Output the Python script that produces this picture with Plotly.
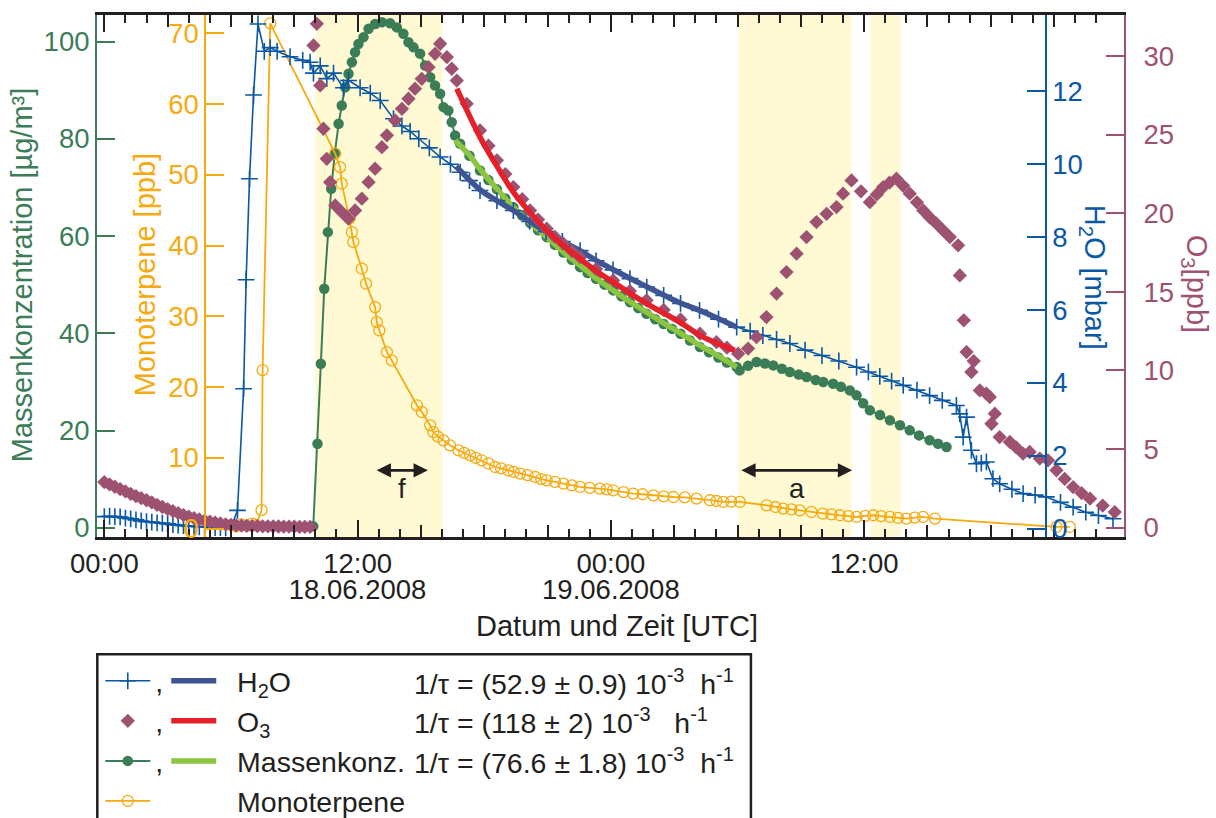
import pandas as pd
import plotly.graph_objects as go

BASE = pd.Timestamp("2008-06-18 00:00:00")

# ---------------- data: time in hours after 18.06.2008 00:00 UTC ----------------
h2o_t = [0.0, 0.25, 0.5, 0.75, 1.0, 1.25, 1.5, 1.75, 2.0, 2.25, 2.5, 2.75, 3.0, 3.25, 3.5, 3.75,
         4.0, 4.25, 4.5, 4.75, 5.0, 5.25, 5.5, 5.75, 6.0,
         6.31, 6.6, 6.72, 6.88, 7.07, 7.28, 7.58, 7.86, 8.19, 8.8, 9.4, 9.75,
         9.91, 10.23, 10.54, 10.86, 11.33, 11.57, 12.12, 12.6, 13.07, 13.7, 14.1, 14.49, 14.9, 15.4, 15.91,
         16.4, 16.86, 17.3, 17.8, 18.6, 19.38, 20.15, 20.93, 21.7, 22.54, 23.3, 24.1, 24.9, 25.7, 26.5,
         27.3, 28.2, 29.1, 29.96,
         30.6, 31.2, 31.85, 32.48, 33.2, 34.0, 34.8, 35.64, 36.2, 36.74, 37.3, 37.85, 38.5, 39.1, 39.7, 40.37,
         40.53, 40.69, 40.85, 41.08, 41.32, 41.55, 41.79, 42.1, 42.42, 43.0, 43.53, 44.1, 44.63, 45.3, 45.9,
         46.5, 47.1, 47.79]
h2o_v = [0.33, 0.34, 0.33, 0.32, 0.29, 0.27, 0.24, 0.21, 0.19, 0.18, 0.16, 0.15, 0.13, 0.11, 0.10, 0.08,
         0.07, 0.06, 0.05, 0.05, 0.04, 0.03, 0.03, 0.02, 0.02,
         0.5, 3.84, 6.83, 9.6, 11.9, 13.85, 13.1, 13.2, 13.1, 12.95, 12.85, 12.8,
         12.5, 12.7, 12.35, 12.5, 12.1, 12.3, 12.1, 11.95, 11.75, 11.25, 11.05, 10.9, 10.7, 10.45, 10.2,
         10.0, 9.78, 9.55, 9.28, 9.0, 8.73, 8.43, 8.15, 7.88, 7.63, 7.35, 7.1, 6.86, 6.63, 6.4,
         6.18, 5.99, 5.75, 5.53,
         5.42, 5.3, 5.19, 5.08, 4.9, 4.75, 4.6, 4.43, 4.3, 4.18, 4.05, 3.93, 3.8, 3.65, 3.52, 3.38,
         3.15, 2.51, 3.06, 2.15, 1.78, 1.8, 1.83, 1.37, 1.23, 1.08, 0.96, 0.92, 0.87, 0.72, 0.59,
         0.45, 0.36, 0.27]

h2o_fit_t = [16.67, 17.8, 18.6, 19.38, 20.15, 20.93, 21.7, 22.54, 23.3, 24.1, 24.9, 25.7, 26.5,
             27.3, 28.2, 29.1, 29.96]
h2o_fit_v = [9.94, 9.3, 9.0, 8.73, 8.43, 8.15, 7.88, 7.63, 7.36, 7.11, 6.87, 6.64, 6.41,
             6.19, 5.99, 5.76, 5.53]

o3_t = [0.0, 0.25, 0.5, 0.75, 1.0, 1.25, 1.5, 1.75, 2.0, 2.25, 2.5, 2.75, 3.0, 3.25, 3.5, 3.75,
        4.0, 4.25, 4.5, 4.75, 5.0, 5.25, 5.5, 5.75, 6.0, 6.25, 6.5, 6.75, 7.0, 7.25, 7.5, 7.75,
        8.0, 8.25, 8.5, 8.75, 9.0, 9.25, 9.5, 9.75,
        9.91, 10.07, 10.23, 10.38, 10.54, 10.7, 10.94, 11.25, 11.57, 11.88, 12.2, 12.52, 12.83, 13.15,
        13.39, 13.78, 14.1, 14.41, 14.72, 15.04, 15.36, 15.67, 15.91, 16.23, 16.46, 16.7,
        17.17, 17.8, 18.2, 18.6, 19.0, 19.38, 19.8, 20.17, 20.55, 20.96, 21.35, 21.75, 22.15, 22.54,
        23.3, 24.11, 24.9, 25.69, 26.5, 27.3, 28.22, 29.0, 29.5, 30.03,
        30.5, 30.9, 31.37, 31.85, 32.32, 32.8, 33.27, 33.74, 34.22, 34.69, 35.0, 35.4, 35.85, 36.27,
        36.6, 36.9, 37.2, 37.53, 37.85, 38.16, 38.5, 38.8, 39.1, 39.43, 39.75, 40.06, 40.45,
        40.53, 40.72, 40.85, 41.08, 41.19, 41.48, 41.79, 41.95, 42.03, 42.19, 42.42, 42.9, 43.2,
        43.53, 43.84, 44.32, 44.71, 45.11, 45.5, 45.9, 46.3, 46.7, 47.3, 47.87]
o3_v = [2.9, 2.75, 2.6, 2.45, 2.3, 2.15, 2.0, 1.87, 1.74, 1.6, 1.45, 1.31, 1.18, 1.05, 0.92, 0.8,
        0.7, 0.6, 0.52, 0.45, 0.38, 0.32, 0.26, 0.21, 0.17, 0.14, 0.12, 0.11, 0.1, 0.09, 0.08, 0.08,
        0.07, 0.07, 0.06, 0.06, 0.06, 0.05, 0.05, 0.05,
        30.68, 32.06, 28.14, 25.38, 23.47, 21.98, 20.5, 20.08, 19.66, 20.18, 20.93, 21.98, 22.84, 24.21,
        24.96, 25.91, 26.65, 27.29, 27.93, 28.56, 29.3, 30.15, 30.79, 29.94, 29.2, 28.45,
        26.97, 25.27, 24.3, 23.37, 22.5, 21.67, 20.9, 20.18, 19.6, 19.02, 18.5, 18.07, 17.6, 17.21,
        16.45, 15.73, 15.05, 14.46, 13.85, 13.25, 12.34, 11.8, 11.45, 11.07,
        11.39, 12.12, 13.4, 14.89, 16.26, 17.43, 18.49, 19.44, 19.97, 20.4, 21.25, 22.09, 21.4, 20.71,
        21.2, 21.67, 21.95, 22.2, 21.75, 21.25, 20.7, 20.18, 19.75, 19.34, 18.9, 18.49, 17.96,
        16.05, 13.19, 11.17, 9.9, 10.6, 8.73, 8.52, 8.31, 6.61, 7.25, 5.76, 5.45, 5.1,
        4.71, 4.81, 4.39, 4.28, 3.65, 3.1, 2.58, 2.2, 1.84, 1.4, 0.99]

o3_fit_t = [16.7, 17.8, 18.6, 19.38, 20.17, 20.96, 21.75, 22.54, 23.3, 24.11, 24.9, 25.69, 26.5,
            27.3, 28.22, 29.0, 29.87]
o3_fit_v = [27.93, 24.85, 23.0, 21.35, 20.05, 18.91, 17.95, 17.11, 16.33, 15.62, 14.92, 14.25, 13.65,
            13.05, 12.23, 11.75, 11.28]

mass_t = [9.9, 10.1, 10.26, 10.42, 10.59, 10.75, 10.92, 11.1, 11.25, 11.41, 11.57, 11.73, 11.88, 12.04,
          12.28, 12.52, 12.83, 13.15, 13.54, 13.86, 14.17, 14.41, 14.65, 14.96, 15.2, 15.44, 15.67,
          15.91, 16.07, 16.3, 16.46, 16.62,
          16.86, 17.3, 17.8, 18.2, 18.6, 19.0, 19.38, 19.8, 20.17, 20.55, 20.96, 21.35, 21.75, 22.15,
          22.54, 22.9, 23.3, 23.7, 24.11, 24.5, 24.9, 25.3, 25.69, 26.1, 26.5, 26.9, 27.3, 27.75, 28.22,
          28.65, 29.1, 29.5, 29.96,
          30.1, 30.5, 30.9, 31.3, 31.69, 32.1, 32.48, 32.9, 33.27, 33.7, 34.06, 34.53, 34.9, 35.32,
          35.64, 35.95, 36.27, 36.75, 37.22, 37.7, 38.16, 38.6, 39.1, 39.5, 39.9]
mass_v = [0.3, 17.3, 33.75, 49.17, 60.8, 69.72, 77.0, 83.08, 86.85, 90.6, 93.36, 95.75, 97.8, 99.5,
          100.9, 102.6, 103.6, 103.97, 103.77, 102.9, 101.6, 99.86, 98.8, 97.5, 95.07, 92.66, 90.96,
          89.25, 86.5, 85.8, 83.4, 80.68,
          78.97, 76.5, 73.48, 71.5, 69.6, 67.7, 65.94, 64.2, 62.7, 61.2, 59.77, 58.2, 56.6, 55.1,
          53.6, 52.4, 51.2, 50.0, 48.82, 47.6, 46.4, 45.2, 44.03, 42.9, 41.9, 40.9, 39.9, 38.5, 37.16,
          36.1, 35.0, 34.0, 33.05,
          32.37, 33.3, 34.08, 33.8, 33.4, 32.7, 32.03, 31.5, 31.0, 30.4, 29.97, 29.64, 29.0, 28.26,
          27.24, 25.6, 24.15, 23.2, 22.1, 21.1, 20.04, 19.0, 17.99, 17.3, 16.61]

mass_fit_t = [16.62, 17.3, 17.8, 18.6, 19.38, 20.17, 20.96, 21.75, 22.54, 23.3, 24.11, 24.9, 25.69,
              26.5, 27.3, 28.22, 29.1, 29.96]
mass_fit_v = [79.65, 76.6, 73.8, 69.7, 65.94, 62.7, 59.77, 56.7, 53.96, 51.3, 48.82, 46.5, 44.36,
              42.1, 40.0, 37.51, 35.3, 33.05]

mono_t = [6.0, 6.25, 6.5, 6.75, 7.0, 7.2, 7.45, 7.5, 7.86,
          10.94, 11.17, 11.25, 11.61, 11.73, 11.8, 12.2, 12.4, 12.83, 12.91, 13.03, 13.39, 13.62,
          14.81, 15.04, 15.44, 15.59, 15.8, 16.07, 16.38, 16.78, 17.05, 17.33, 17.6, 17.88, 18.2, 18.51,
          18.8, 19.14, 19.4, 19.7, 20.05, 20.41, 20.7, 20.96, 21.35, 21.75, 22.15, 22.54, 23.0, 23.48,
          23.8, 24.11, 24.6, 25.06, 25.5, 26.01, 26.5, 26.96, 27.5, 28.06, 28.69, 29.0, 29.32, 29.7, 30.11,
          31.38, 31.8, 32.16, 32.55, 32.95, 33.5, 34.04, 34.45, 34.85, 35.25, 35.64, 36.05, 36.43, 36.8,
          37.22, 37.6, 38.0, 38.4, 38.79, 39.35,
          45.11, 45.74]
mono_v = [0.5, 0.3, 0.6, 0.4, 0.7, 0.5, 2.6, 22.4, 71.4,
          52.97, 51.07, 48.73, 43.79, 41.9, 40.48, 36.72, 34.6, 31.3, 29.18, 28.0, 24.94, 23.77,
          17.42, 16.47, 14.59, 13.64, 13.0, 12.47, 11.76, 11.06, 10.7, 10.35, 10.0, 9.65, 9.2, 8.7,
          8.5, 8.23, 8.0, 7.77, 7.55, 7.29, 7.0, 6.82, 6.6, 6.36, 6.1, 5.88, 5.75, 5.65,
          5.55, 5.41, 5.15, 4.94, 4.85, 4.7, 4.55, 4.46, 4.4, 4.24, 4.0, 3.9, 3.76, 3.8, 3.76,
          3.29, 3.05, 2.82, 2.7, 2.58, 2.35, 2.12, 2.0, 1.88, 1.75, 1.64, 1.8, 1.88, 1.75,
          1.64, 1.5, 1.41, 1.55, 1.64, 1.41,
          0.23, 0.23]

shade_start = [10.0, 30.03, 36.33]
shade_end = [16.02, 35.4, 37.72]

arrow_labels = ["f", "a"]
arrow_from = [12.83, 30.11]
arrow_to = [15.33, 35.43]
arrow_text_t = [14.1, 32.83]

fit_labels = ["1/τ = (52.9 ± 0.9) 10<sup>-3</sup>\u00a0\u00a0h<sup>-1</sup>",
              "1/τ = (118 ± 2) 10<sup>-3</sup>\u00a0\u00a0\u00a0h<sup>-1</sup>",
              "1/τ = (76.6 ± 1.8) 10<sup>-3</sup>\u00a0\u00a0h<sup>-1</sup>"]

x_major_h = list(range(0, 46, 3))
x_label_h = {0: "00:00", 12: "12:00", 24: "00:00", 36: "12:00"}
x_long_h = [0, 12, 24, 36]
x_date_h = {12: "18.06.2008", 24: "19.06.2008"}
x_minor_h = [h for h in range(0, 48) if h % 3 != 0]
x_range_h = [-0.346, 48.31]

# ---------------- styling ----------------
FONT = "Liberation Sans, Arial, Helvetica, sans-serif"
DARK = "#231f20"
GREEN = "#3b7d57"
ORANGE = "#f7aa10"
BLUE = "#0a58a5"
PURPLE = "#9d5271"
NAVY = "#3f5593"
RED = "#e4202b"
LIME = "#8cc540"
SHADE = "#fffad3"
TICK_FS = 27.5
TITLE_FS = 29
LEG_FS = 28.5

L, R, T, B = 96.7, 91.7, 14.5, 281.3
W, H = 1216, 818
PW, PH = W - L - R, H - T - B


def px(xpix):
    return (xpix - L) / PW


def py(ypix):
    return (H - B - ypix) / PH


def tt(hours):
    return [BASE + pd.Timedelta(hours=h) for h in hours]


fig = go.Figure()

fig.add_trace(go.Scatter(x=tt(o3_t), y=o3_v, yaxis="y4", mode="markers", name=",",
                         marker=dict(symbol="diamond", size=11, color=PURPLE, line=dict(width=0)),
                         legend="legend", legendrank=2, legendgroup="o3d"))
fig.add_trace(go.Scatter(x=tt(mass_t), y=mass_v, yaxis="y", mode="lines+markers", name=",",
                         line=dict(color=GREEN, width=2),
                         marker=dict(symbol="circle", size=10.5, color=GREEN),
                         legend="legend", legendrank=3, legendgroup="md"))
fig.add_trace(go.Scatter(x=tt(h2o_t), y=h2o_v, yaxis="y3", mode="lines+markers", name=",",
                         line=dict(color=BLUE, width=1.6),
                         marker=dict(symbol="cross-thin", size=12, color=BLUE,
                                     line=dict(color=BLUE, width=1.6)),
                         legend="legend", legendrank=1, legendgroup="hd"))
fig.add_trace(go.Scatter(x=tt(mono_t), y=mono_v, yaxis="y2", mode="lines+markers", name="\u00a0",
                         line=dict(color=ORANGE, width=1.8),
                         marker=dict(symbol="circle-open", size=11, color=ORANGE,
                                     line=dict(color=ORANGE, width=1.3)),
                         legend="legend", legendrank=4, legendgroup="mod"))
fig.add_trace(go.Scatter(x=tt(h2o_fit_t), y=h2o_fit_v, yaxis="y3", mode="lines",
                         name="\u00a0\u00a0H<sub>2</sub>O", line=dict(color=NAVY, width=5.5, shape="spline"),
                         legend="legend2", legendrank=1, legendgroup="hf"))
fig.add_trace(go.Scatter(x=tt(o3_fit_t), y=o3_fit_v, yaxis="y4", mode="lines",
                         name="\u00a0\u00a0O<sub>3</sub>", line=dict(color=RED, width=5.5, shape="spline"),
                         legend="legend2", legendrank=2, legendgroup="of"))
fig.add_trace(go.Scatter(x=tt(mass_fit_t), y=mass_fit_v, yaxis="y", mode="lines",
                         name="\u00a0\u00a0Massenkonz.", line=dict(color=LIME, width=5.5, shape="spline"),
                         legend="legend2", legendrank=3, legendgroup="mf"))
fig.add_trace(go.Scatter(x=[None], y=[None], mode="lines", name="\u00a0\u00a0Monoterpene",
                         line=dict(color="rgba(0,0,0,0)", width=1), legend="legend2", legendrank=4,
                         legendgroup="mof", hoverinfo="skip"))
fig.add_trace(go.Scatter(x=tt([0]), y=[None], xaxis="x2", yaxis="y", mode="lines",
                         showlegend=False, hoverinfo="skip"))

xr = [str(t) for t in tt(x_range_h)]
shapes = []
for s, e in zip(shade_start, shade_end):
    shapes.append(dict(type="rect", xref="x", yref="paper", x0=tt([s])[0], x1=tt([e])[0],
                       y0=0, y1=1, fillcolor=SHADE, line=dict(width=0), layer="below"))
shapes.append(dict(type="rect", xref="paper", yref="paper", x0=px(97), x1=px(751),
                   y0=py(654), y1=py(840), line=dict(color=DARK, width=2.5),
                   fillcolor="rgba(0,0,0,0)"))

ann = []
for lab, a0, a1, tx in zip(arrow_labels, arrow_from, arrow_to, arrow_text_t):
    ann.append(dict(x=tt([a1])[0], y=py(470), xref="x", yref="paper", ax=tt([a0])[0], ay=0,
                    axref="x", ayref="pixel", showarrow=True, arrowhead=2, arrowside="end+start",
                    arrowsize=1.1, arrowwidth=2.6, arrowcolor=DARK, text=""))
    ann.append(dict(x=tt([tx])[0], y=py(488), xref="x", yref="paper", text=lab, showarrow=False,
                    font=dict(size=TICK_FS, color=DARK), xanchor="center", yanchor="middle"))

title_specs = [
    ("Massenkonzentration [µg/m³]", 22.5, 274, -90, GREEN),
    ("Monoterpene [ppb]", 144.7, 274, -90, ORANGE),
    ("H<sub>2</sub>O [mbar]", 1093, 277, 90, BLUE),
    ("O<sub>3</sub>[ppb]", 1195, 283, 90, PURPLE),
    ("Datum und Zeit [UTC]", 617, 626, 0, DARK),
]
for text, xx, yy, ang, col in title_specs:
    ann.append(dict(x=px(xx), y=py(yy), xref="paper", yref="paper", text=text, showarrow=False,
                    textangle=ang, font=dict(size=TITLE_FS, color=col), xanchor="center",
                    yanchor="middle"))

for i, lab in enumerate(fit_labels):
    ann.append(dict(x=px(412), y=py([681.5, 721, 760.5][i]), xref="paper", yref="paper", text=lab,
                    showarrow=False, font=dict(size=LEG_FS, color=DARK), xanchor="left",
                    yanchor="middle"))


def yax(color, rng, tickvals, **kw):
    d = dict(range=rng, tickmode="array", tickvals=tickvals, ticks="inside", ticklen=18,
             tickwidth=2, tickcolor=color, showline=True, linecolor=color, linewidth=2,
             showgrid=False, zeroline=False, tickfont=dict(size=TICK_FS, color=color, family=FONT))
    d.update(kw)
    return d


fig.update_layout(
    width=W, height=H, margin=dict(l=L, r=R, t=T, b=B, pad=0, autoexpand=False),
    paper_bgcolor="white", plot_bgcolor="white",
    font=dict(family=FONT, size=TICK_FS, color=DARK),
    xaxis=dict(type="date", range=xr, showgrid=False, zeroline=False, showline=True,
               linecolor=DARK, linewidth=2.5, mirror="ticks", ticks="inside", ticklen=12,
               tickwidth=2, tickcolor=DARK, tickmode="array", tickvals=tt(x_major_h),
               ticktext=[x_label_h.get(h, "") for h in x_major_h],
               tickfont=dict(size=TICK_FS, color=DARK),
               minor=dict(ticks="inside", ticklen=8, tickwidth=2, tickcolor=DARK,
                          tickmode="array", tickvals=tt(x_minor_h), showgrid=False)),
    xaxis2=dict(type="date", range=xr, overlaying="x", side="bottom", anchor="y",
                showgrid=False, zeroline=False, showline=False, mirror="ticks",
                ticks="inside", ticklen=17, tickwidth=2, tickcolor=DARK, tickmode="array",
                tickvals=tt(x_long_h), ticktext=[x_date_h.get(h, "") for h in x_long_h],
                tickfont=dict(size=TICK_FS, color=DARK), ticklabelstandoff=33),
    yaxis=yax(GREEN, [-1.89, 105.45], [0, 20, 40, 60, 80, 100], side="left", anchor="x"),
    yaxis2=yax(ORANGE, [-1.19, 72.57], [0, 10, 20, 30, 40, 50, 60, 70], side="left",
               overlaying="y", anchor="free", position=px(205)),
    yaxis3=yax(BLUE, [-0.23, 14.096], [0, 2, 4, 6, 8, 10, 12], side="right",
               overlaying="y", anchor="free", position=px(1046)),
    yaxis4=yax(PURPLE, [-0.598, 32.62], [0, 5, 10, 15, 20, 25, 30], side="right",
               overlaying="y", anchor="x", ticklabelstandoff=12),
    legend=dict(x=px(100), y=py(655.5), xanchor="left", yanchor="top", bgcolor="rgba(0,0,0,0)",
                borderwidth=0, font=dict(size=LEG_FS, color=DARK, family=FONT), itemwidth=45,
                traceorder="grouped", tracegroupgap=0),
    legend2=dict(x=px(166), y=py(655.5), xanchor="left", yanchor="top", bgcolor="rgba(0,0,0,0)",
                 borderwidth=0, font=dict(size=LEG_FS, color=DARK, family=FONT), itemwidth=45,
                 traceorder="grouped", tracegroupgap=0),
    shapes=shapes, annotations=ann, showlegend=True,
)

fig.write_html("out.html")
